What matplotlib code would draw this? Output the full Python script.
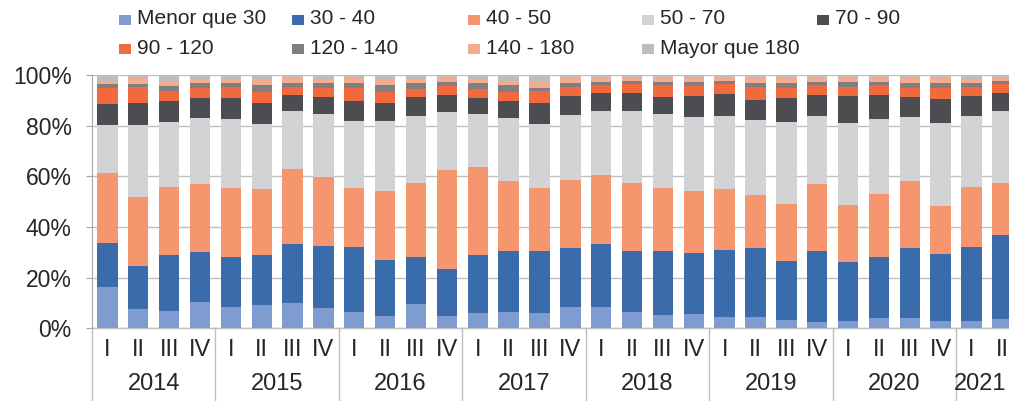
import matplotlib
matplotlib.use("Agg")
import matplotlib.pyplot as plt
import matplotlib.transforms as mtransforms
from matplotlib.patches import Rectangle
from matplotlib.lines import Line2D
import numpy as np

plt.rcParams['font.family'] = ['Liberation Sans', 'DejaVu Sans']

years = ["2014", "2015", "2016", "2017", "2018", "2019", "2020", "2021"]
quarters = ["I", "II", "III", "IV"] * 7 + ["I", "II"]
series_names = ["Menor que 30", "30 - 40", "40 - 50", "50 - 70", "70 - 90",
                "90 - 120", "120 - 140", "140 - 180", "Mayor que 180"]

menor_30 = [16.4, 7.5, 7.0, 10.5, 8.3, 9.1, 10.1, 8.2, 6.6, 4.9, 9.5, 4.9, 5.9, 6.6, 5.9,
            8.6, 8.6, 6.3, 5.3, 5.7, 4.6, 4.6, 3.3, 2.6, 2.9, 3.9, 4.2, 3.0, 3.0, 3.7]
s30_40 = [17.2, 17.2, 22.1, 19.8, 19.7, 20.0, 23.2, 24.3, 25.4, 22.1, 18.8, 18.4, 23.0, 24.1, 24.8,
          23.0, 24.6, 24.2, 25.2, 24.2, 26.3, 27.2, 23.4, 28.1, 23.2, 24.4, 27.6, 26.2, 29.2, 33.1]
s40_50 = [27.6, 27.3, 26.8, 26.7, 27.5, 25.8, 29.5, 27.4, 23.5, 27.2, 28.9, 39.2, 34.9, 27.6, 24.8,
          27.0, 27.3, 26.7, 25.0, 24.3, 24.0, 20.8, 22.2, 26.3, 22.6, 24.6, 26.4, 19.1, 23.7, 20.7]
s50_70 = [19.1, 28.3, 25.7, 25.9, 27.0, 25.6, 23.0, 24.6, 26.5, 27.6, 26.6, 23.0, 20.8, 24.6, 25.2,
          25.6, 25.3, 28.6, 29.0, 29.1, 28.9, 29.6, 32.7, 26.8, 32.2, 29.6, 25.1, 32.9, 27.9, 28.3]
s70_90 = [8.3, 8.5, 8.3, 7.9, 8.3, 8.6, 6.3, 6.7, 7.9, 7.0, 7.4, 6.6, 6.2, 7.0, 8.1,
          7.5, 7.2, 7.2, 6.9, 8.4, 8.6, 7.9, 9.5, 8.3, 10.8, 9.6, 7.9, 9.3, 7.9, 7.0]
s90_120 = [6.1, 6.3, 3.8, 3.9, 4.3, 4.3, 3.0, 3.8, 4.8, 4.6, 3.3, 3.6, 3.7, 3.5, 4.9,
           3.7, 3.1, 3.4, 4.7, 4.1, 4.0, 5.0, 3.9, 4.0, 3.7, 4.0, 3.5, 4.5, 3.7, 3.6]
s120_140 = [1.7, 1.3, 2.0, 2.0, 1.9, 2.7, 1.9, 1.7, 2.3, 2.7, 2.2, 1.7, 2.5, 2.7, 1.3,
            1.6, 1.3, 1.4, 1.3, 1.6, 1.4, 1.9, 1.7, 1.3, 1.7, 1.3, 2.3, 1.7, 1.3, 1.4]
s140_180 = [1.4, 2.3, 1.7, 1.6, 1.3, 2.2, 1.7, 1.6, 1.7, 2.2, 1.6, 1.3, 1.3, 1.7, 2.4,
            1.7, 1.3, 1.1, 1.5, 1.5, 1.3, 1.7, 2.0, 1.3, 1.6, 1.3, 1.7, 2.0, 1.3, 1.1]
mayor_180 = [2.2, 1.3, 2.6, 1.7, 1.7, 1.7, 1.3, 1.7, 1.3, 1.7, 1.7, 1.3, 1.7, 2.2, 2.6,
             1.3, 1.3, 1.1, 1.1, 1.1, 0.9, 1.3, 1.3, 1.3, 1.3, 1.3, 1.3, 1.3, 2.0, 1.1]

colors = ["#7E9CD0", "#3A6BAA", "#F5966F", "#D2D3D5", "#4B4D50",
          "#F1693D", "#7F7F82", "#F5AB8E", "#BDBDBD"]

all_series = [menor_30, s30_40, s40_50, s50_70, s70_90, s90_120, s120_140, s140_180, mayor_180]

W, H = 1009, 401
fig = plt.figure(figsize=(W / 100, H / 100), dpi=100)
slot = 30.86
n = len(quarters)
ax = fig.add_axes([92 / W, (H - 328.3) / H, n * slot / W, 253.3 / H])

x = np.arange(n)
bottom = np.zeros(n)
for vals, col, name in zip(all_series, colors, series_names):
    v = np.array(vals, dtype=float)
    ax.bar(x, v, bottom=bottom, width=0.66, color=col, label=name, zorder=3, linewidth=0)
    bottom += v

ax.set_xlim(-0.5, n - 0.5)
ax.set_ylim(0, 100)
ax.set_yticks([0, 20, 40, 60, 80, 100])
ax.set_yticklabels([f"{v}%" for v in [0, 20, 40, 60, 80, 100]], fontsize=16.5, color="#262626")
ax.yaxis.grid(True, color="#BFBFBF", linewidth=1.0, zorder=0)
ax.set_axisbelow(True)
ax.tick_params(axis='y', length=4, color="#A6A6A6", pad=10.5)
ax.set_xticks([])
for s in ["top", "right", "bottom"]:
    ax.spines[s].set_visible(False)
ax.spines["left"].set_color("#A6A6A6")

trans = mtransforms.blended_transform_factory(ax.transData, fig.transFigure)
text_color = "#262626"
for i, q in enumerate(quarters):
    ax.text(i, (H - 350.5) / H, q, transform=trans, ha="center", va="center",
            fontsize=17, color=text_color, clip_on=False)

# year group labels and separators
starts = list(range(0, n, 4))
for k, yr in enumerate(years):
    s = starts[k]
    e = min(s + 4, n)
    t = trans
    if e - s < 4:
        # keep the partial last group's label inside the picture
        t = trans + mtransforms.ScaledTranslation(-7 / 100, 0, fig.dpi_scale_trans)
    ax.text((s + e - 1) / 2, (H - 384) / H, yr, transform=t, ha="center", va="center",
            fontsize=17, color=text_color, clip_on=False)
for b in starts + [n]:
    ax.add_line(Line2D([b - 0.5, b - 0.5], [0, (H - 328.3) / H], transform=trans,
                       color="#BFBFBF", linewidth=1.0, clip_on=False))
ax.add_line(Line2D([-0.5, n - 0.5], [(H - 328.3) / H] * 2, transform=trans,
                   color="#BFBFBF", linewidth=1.0, clip_on=False))

# legend (manual layout)
leg_x = [137, 310, 486, 660, 835, 137, 310, 486, 660]
leg_y = [19, 19, 19, 19, 19, 48, 48, 48, 48]
for name, col, lx, ly in zip(series_names, colors, leg_x, leg_y):
    fig.patches.append(Rectangle(((lx - 18) / W, (H - ly - 6) / H), 12 / W, 10 / H,
                                 transform=fig.transFigure, facecolor=col, edgecolor="none"))
    fig.text(lx / W, (H - ly) / H, name, ha="left", va="center",
             fontsize=15, color=text_color)

fig.savefig("out.png", dpi=100)
